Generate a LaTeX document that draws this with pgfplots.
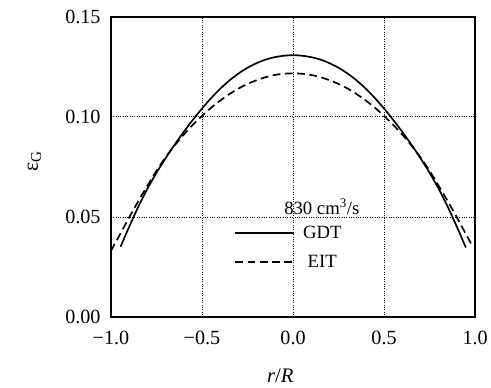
\documentclass[border=0pt]{standalone}
\usepackage{pgfplots}
\pgfplotsset{compat=1.18}
\usepackage{fontspec}
\setmainfont{Liberation Serif}
\begin{document}
\begin{tikzpicture}
\begin{axis}[
  name=ax,
  scale only axis,
  width=370bp, height=305bp,
  xmin=-1, xmax=1, ymin=0, ymax=0.15,
  xtick={-1,-0.5,0,0.5,1},
  xticklabels={−1.0,−0.5,0.0,0.5,1.0},
  ytick={0,0.05,0.10,0.15},
  yticklabels={0.00,0.05,0.10,0.15},
  major tick length=0pt,
  tick label style={font=\fontsize{20.5bp}{24bp}\selectfont},
  xticklabel style={yshift=-11bp},
  yticklabel style={xshift=-7bp},
  grid=major,
  grid style={black, dotted, line width=0.7bp},
  axis line style={line width=2.2bp},
  every axis y label/.style={at={(axis description cs:-0.21,0.52)}, rotate=90, anchor=center},
  every axis x label/.style={at={(axis description cs:0.465,-0.197)}, anchor=center},
  ylabel={\fontsize{22bp}{24bp}\selectfont ε\textsubscript{G}},
  xlabel={\fontsize{21bp}{24bp}\selectfont\textit{r}/\textit{R}},
  legend cell align=center,
  legend image code/.code={\draw[#1] (0bp,0bp) -- (60bp,0bp);},
  legend style={at={(axis cs:-0.323,0.0466)}, anchor=north west, draw=none, fill=none,
    inner sep=0pt, row sep=12bp,
    font=\fontsize{19bp}{22bp}\selectfont,
    nodes={inner ysep=2bp, inner xsep=8bp}},
]
\addplot[black, line width=1.7bp, smooth] coordinates {
(-0.947,0.0351) (-0.9,0.0450) (-0.85,0.0550) (-0.8,0.0640) (-0.75,0.0720) (-0.7,0.0793)
(-0.65,0.0861) (-0.6,0.0925) (-0.55,0.0985) (-0.5,0.1041) (-0.45,0.1093) (-0.4,0.1140)
(-0.35,0.1181) (-0.3,0.1216) (-0.25,0.1245) (-0.2,0.1268) (-0.15,0.1286) (-0.1,0.1298)
(-0.05,0.1305) (0,0.1308) (0.05,0.1305) (0.1,0.1298) (0.15,0.1286) (0.2,0.1268)
(0.25,0.1245) (0.3,0.1216) (0.35,0.1181) (0.4,0.1140) (0.45,0.1093) (0.5,0.1041)
(0.55,0.0985) (0.6,0.0925) (0.65,0.0861) (0.7,0.0793) (0.75,0.0720) (0.8,0.0640)
(0.85,0.0550) (0.9,0.0450) (0.949,0.0347)
};
\addlegendentry{GDT}
\addplot[black, line width=1.7bp, dash pattern=on 8bp off 4.5bp, smooth] coordinates {
(-1.0,0.0330) (-0.95,0.0413) (-0.9,0.0497) (-0.85,0.0578) (-0.8,0.0655) (-0.75,0.0730)
(-0.7,0.0797) (-0.65,0.0857) (-0.6,0.0911) (-0.55,0.0960) (-0.5,0.1004) (-0.45,0.1045)
(-0.4,0.1081) (-0.35,0.1113) (-0.3,0.1141) (-0.25,0.1164) (-0.2,0.1183) (-0.15,0.1198)
(-0.1,0.1209) (-0.05,0.1215) (0,0.1217) (0.05,0.1215) (0.1,0.1209) (0.15,0.1198)
(0.2,0.1183) (0.25,0.1164) (0.3,0.1141) (0.35,0.1113) (0.4,0.1081) (0.45,0.1045)
(0.5,0.1004) (0.55,0.0960) (0.6,0.0911) (0.65,0.0857) (0.7,0.0797) (0.75,0.0730)
(0.8,0.0655) (0.85,0.0578) (0.9,0.0497) (0.95,0.0413) (0.985,0.0355)
};
\addlegendentry{EIT}
\node[font=\fontsize{19bp}{22bp}\selectfont] at (axis cs:0.158,0.0551) {830 cm\textsuperscript{3}/s};
\end{axis}
\path[use as bounding box] ([shift={(-112.7bp,-72bp)}]ax.south west) rectangle ([shift={(8.3bp,17bp)}]ax.north east);
\end{tikzpicture}
\end{document}
